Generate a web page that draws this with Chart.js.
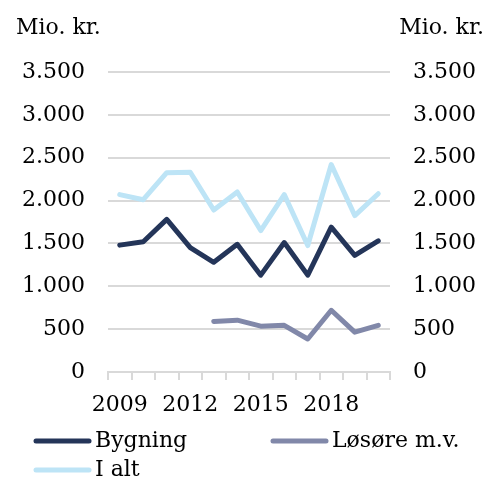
<!DOCTYPE html>
<html>
<head>
<meta charset="utf-8">
<script src="https://cdn.jsdelivr.net/npm/chart.js@4"></script>
<style>
  html, body { margin: 0; padding: 0; background: #fff; }
  #wrap { width: 488px; height: 480px; }
</style>
</head>
<body>
<div id="wrap"><canvas id="chart"></canvas></div>
<script>
// Data
const years = ['2009', '2010', '2011', '2012', '2013', '2014', '2015', '2016', '2017', '2018', '2019', '2020']
const bygning = [1480, 1520, 1780, 1450, 1280, 1490, 1130, 1510, 1130, 1690, 1360, 1530]
const losore = [null, null, null, null, 590, 605, 535, 545, 385, 720, 465, 545]
const iAlt = [2070, 2010, 2325, 2330, 1890, 2100, 1650, 2070, 1475, 2420, 1825, 2080]
const unitLabel = 'Mio. kr.'

const FONT = '"DejaVu Serif", "Liberation Serif", serif'
const gridColor = '#d9d9d9'

// thousands separator with a dot
const fmt = v => String(v).replace(/\B(?=(\d{3})+(?!\d))/g, '.')

// Draws the unit titles and the two-column legend
const extras = {
  id: 'extras',
  afterDraw (chart) {
    const ctx = chart.ctx
    ctx.save()
    ctx.fillStyle = '#000'
    ctx.font = '22px ' + FONT
    ctx.textBaseline = 'middle'
    ctx.textAlign = 'left'
    ctx.fillText(unitLabel, 16, 28)
    ctx.textAlign = 'right'
    ctx.fillText(unitLabel, 484, 28)

    const slots = [[36, 441], [273, 441], [36, 470]]
    ctx.textAlign = 'left'
    chart.data.datasets.forEach((ds, i) => {
      const [x, y] = slots[i]
      ctx.strokeStyle = ds.borderColor
      ctx.lineWidth = 5
      ctx.lineCap = 'round'
      ctx.beginPath()
      ctx.moveTo(x, y)
      ctx.lineTo(x + 53, y)
      ctx.stroke()
      ctx.fillText(ds.label, x + 59, y)
    })
    ctx.restore()
  }
}

const lineStyle = {
  borderWidth: 5,
  pointRadius: 0,
  tension: 0,
  borderCapStyle: 'round',
  borderJoinStyle: 'round',
  spanGaps: false
}

new Chart(document.getElementById('chart'), {
  type: 'line',
  data: {
    labels: years,
    datasets: [
      { label: 'Bygning', data: bygning, borderColor: '#243559', yAxisID: 'y', ...lineStyle },
      { label: 'Løsøre m.v.', data: losore, borderColor: '#8188a9', yAxisID: 'y', ...lineStyle },
      { label: 'I alt', data: iAlt, borderColor: '#bde4f6', yAxisID: 'y', ...lineStyle }
    ]
  },
  options: {
    responsive: true,
    maintainAspectRatio: false,
    animation: false,
    layout: { padding: { top: 72, left: 0, right: 0, bottom: 0 } },
    plugins: {
      legend: { display: false },
      tooltip: { enabled: false }
    },
    scales: {
      x: {
        offset: true,
        afterFit (scale) { scale.height = 108 },
        grid: {
          offset: true,
          drawOnChartArea: false,
          drawTicks: true,
          tickLength: 8,
          color: gridColor,
          lineWidth: 2
        },
        border: { color: gridColor, width: 2 },
        ticks: {
          autoSkip: false,
          maxRotation: 0,
          padding: 12,
          color: '#000',
          font: { family: FONT, size: 22 },
          callback (v, i) { return i % 3 === 0 ? years[i] : '' }
        }
      },
      y: {
        position: 'left',
        min: 0,
        max: 3500,
        afterFit (scale) { scale.width = 108 },
        grid: { color: gridColor, lineWidth: 2, drawTicks: false },
        border: { display: false },
        ticks: {
          stepSize: 500,
          padding: 23,
          color: '#000',
          font: { family: FONT, size: 22 },
          callback: v => fmt(v)
        }
      },
      y2: {
        position: 'right',
        min: 0,
        max: 3500,
        afterFit (scale) { scale.width = 98 },
        grid: { drawOnChartArea: false, drawTicks: false },
        border: { display: false },
        ticks: {
          stepSize: 500,
          padding: 23,
          color: '#000',
          font: { family: FONT, size: 22 },
          callback: v => fmt(v)
        }
      }
    }
  },
  plugins: [extras]
})
</script>
</body>
</html>
